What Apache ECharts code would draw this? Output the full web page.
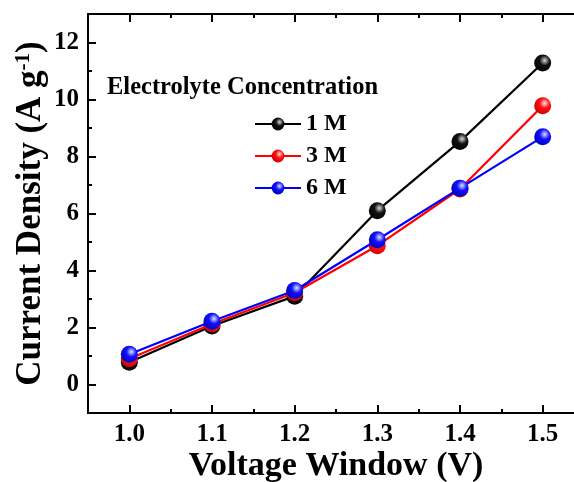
<!DOCTYPE html>
<html><head><meta charset="utf-8">
<script src="https://cdn.jsdelivr.net/npm/echarts@6/dist/echarts.min.js"></script>
<style>html,body{margin:0;padding:0;background:#fff}#c{width:574px;height:482px}</style>
</head><body><div id="c"></div>
<script>
const voltages = [1.0, 1.1, 1.2, 1.3, 1.4, 1.5];
const current1M = [0.78, 2.05, 3.1, 6.1, 8.53, 11.28];
const current3M = [0.9, 2.12, 3.22, 4.87, 6.86, 9.78];
const current6M = [1.06, 2.22, 3.3, 5.08, 6.89, 8.69];
const seriesNames = ['1 M', '3 M', '6 M'];
const xMajorTicks = [1.0, 1.1, 1.2, 1.3, 1.4, 1.5];
const xMinorTicks = [1.05, 1.15, 1.25, 1.35, 1.45];
const yMajorTicks = [0, 2, 4, 6, 8, 10, 12];
const yMinorTicks = [-1, 1, 3, 5, 7, 9, 11];

const FONT = 'Liberation Serif';
const xMin = 0.95, xMax = 1.55, yMin = -1, yMax = 13;

function sphere(base, dark, hi) {
  return { type: 'radial', x: 0.62, y: 0.35, r: 0.75,
    colorStops: [{offset: 0, color: hi}, {offset: 0.4, color: base}, {offset: 1, color: dark}] };
}
const styles = [
  {line: '#000000', fill: sphere('#111111', '#000000', '#d8d8d8')},
  {line: '#ff0000', fill: sphere('#ff1010', '#c00000', '#ffe0e0')},
  {line: '#0000ff', fill: sphere('#1010ff', '#0000b0', '#e0e0ff')}
];
const allData = [current1M, current3M, current6M];

function xAx(pos, ticks, len, opts) {
  return Object.assign({
    type: 'value', position: pos, min: xMin, max: xMax, gridIndex: 0,
    axisLine: {show: true, onZero: false, lineStyle: {color: '#000', width: 2}},
    axisTick: {show: true, inside: true, length: len, customValues: ticks, lineStyle: {color: '#000', width: 2}},
    axisLabel: {show: false},
    splitLine: {show: false}
  }, opts || {});
}
function yAx(ticks, len, opts) {
  return Object.assign({
    type: 'value', position: 'left', min: yMin, max: yMax,
    axisLine: {show: true, onZero: false, lineStyle: {color: '#000', width: 2}},
    axisTick: {show: true, inside: true, length: len, customValues: ticks, lineStyle: {color: '#000', width: 2}},
    axisLabel: {show: false},
    splitLine: {show: false}
  }, opts || {});
}

const option = {
  animation: false,
  backgroundColor: '#fff',
  grid: {left: 88, right: -10, top: 14, bottom: 69, containLabel: false, outerBoundsMode: 'none'},
  xAxis: [
    xAx('bottom', xMajorTicks, 8, {
      axisLabel: {show: true, customValues: xMajorTicks, margin: 9, color: '#000',
        fontFamily: FONT, fontWeight: 'bold', fontSize: 25, formatter: v => Number(v).toFixed(1)},
      name: 'Voltage Window (V)', nameLocation: 'middle', nameGap: 36,
      nameMoveOverlap: false,
      nameTextStyle: {fontFamily: FONT, fontWeight: 'bold', fontSize: 34, color: '#000'}
    }),
    xAx('bottom', xMinorTicks, 4),
    xAx('top', xMajorTicks, 8),
    xAx('top', xMinorTicks, 4)
  ],
  yAxis: [
    yAx(yMajorTicks, 8, {
      axisLabel: {show: true, customValues: yMajorTicks, margin: 9, color: '#000',
        fontFamily: FONT, fontWeight: 'bold', fontSize: 25},
      name: 'Current Density (A g{sup|-1})', nameLocation: 'middle', nameGap: 40,
      nameMoveOverlap: false,
      nameTextStyle: {fontFamily: FONT, fontWeight: 'bold', fontSize: 35, color: '#000',
        rich: {sup: {fontFamily: FONT, fontWeight: 'bold', fontSize: 21, color: '#000', verticalAlign: 'top', lineHeight: 35, padding: [0,0,15,0]}}}
    }),
    yAx(yMinorTicks, 4)
  ],
  legend: {
    show: true, orient: 'vertical', left: 249, top: 107,
    itemWidth: 46, itemHeight: 16, itemGap: 8,
    data: seriesNames,
    textStyle: {fontFamily: FONT, fontWeight: 'bold', fontSize: 24, color: '#000', padding: [0,0,0,0]}
  },
  graphic: [{
    type: 'text', left: 107, top: 75,
    style: {text: 'Electrolyte Concentration', fontFamily: FONT, fontWeight: 'bold', fontSize: 24.5, fill: '#000'}
  }],
  series: seriesNames.map((name, i) => ({
    name: name, type: 'line', xAxisIndex: 0, yAxisIndex: 0,
    data: voltages.map((v, j) => [v, allData[i][j]]),
    symbol: 'circle', symbolSize: 17,
    lineStyle: {color: styles[i].line, width: 2.2},
    itemStyle: {color: styles[i].fill, borderWidth: 0},
    z: 2 + i
  }))
};
echarts.init(document.getElementById('c')).setOption(option);
</script></body></html>
